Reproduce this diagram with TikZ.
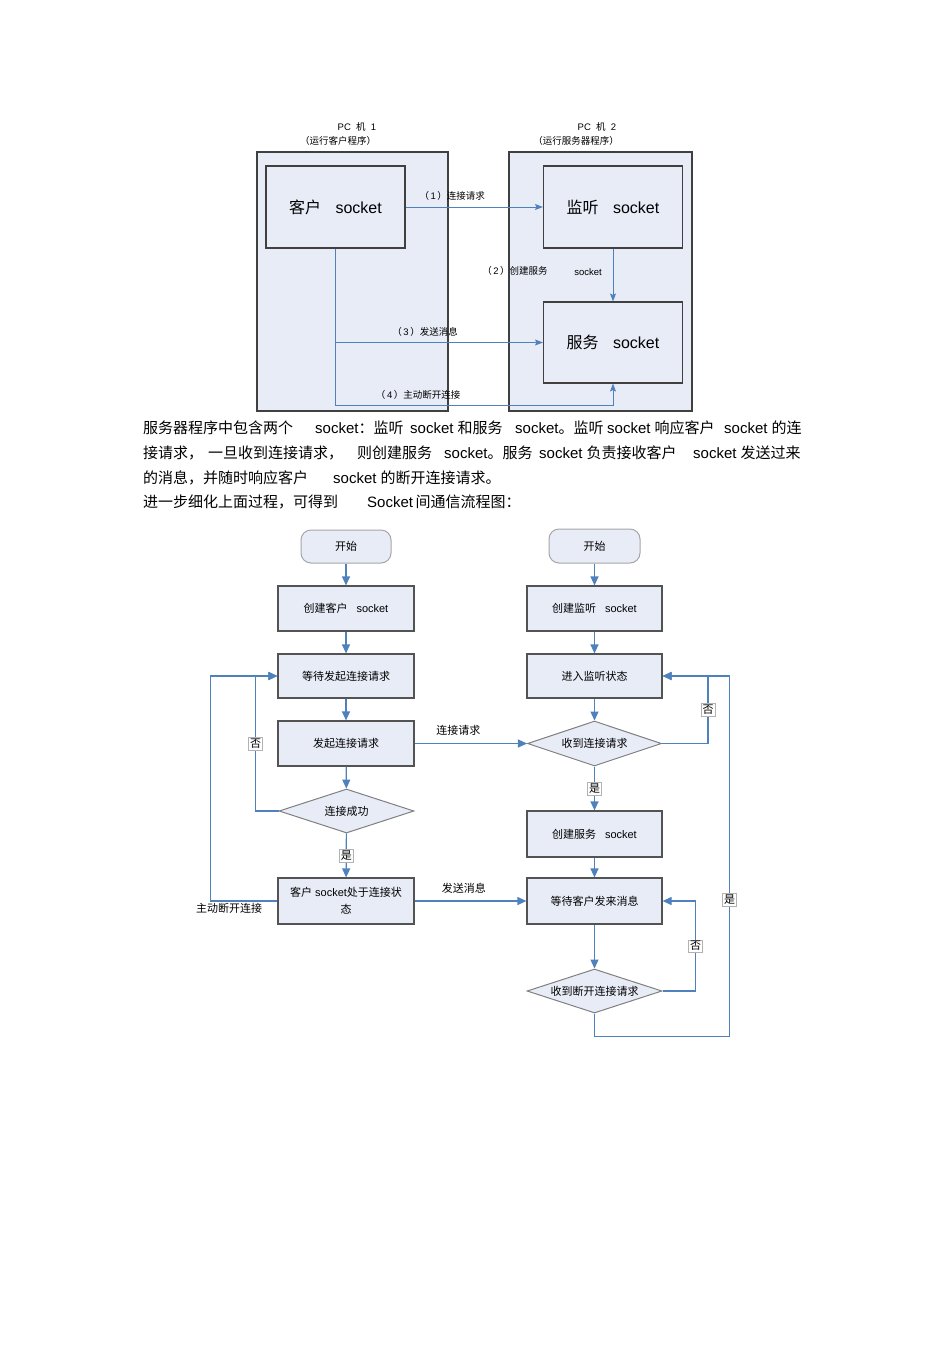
\documentclass[tikz,border=0pt]{standalone}
\usepackage{fontspec}
\setmainfont{Liberation Sans}
\newfontfamily\cjk{Noto Sans CJK SC}
\usetikzlibrary{shapes.geometric,arrows.meta,positioning,calc}
\usepackage{xcolor}

\definecolor{boxfill}{RGB}{232,236,247}
\definecolor{flowblue}{RGB}{79,129,189}
\definecolor{edgegray}{RGB}{64,64,64}
\newcommand{\zh}[1]{{\cjk #1}}

\begin{document}
\begin{tikzpicture}[x=1pt, y=-1pt,
            every node/.style={font=\fontsize{11}{13}\selectfont},
            pcbox/.style={draw=edgegray, fill=boxfill, line width=1.1pt, inner sep=0},
            sockbox/.style={draw=edgegray, fill=boxfill, line width=1.1pt, inner sep=0, minimum width=139pt, minimum height=82pt, font=\fontsize{16}{18}\selectfont},
            small/.style={inner sep=1pt, font=\fontsize{9.5}{11}\selectfont},
            link/.style={draw=flowblue, line width=0.9pt, -{Stealth[length=8pt,width=6pt,inset=1.5pt]}},
            term/.style={draw=gray!70, fill=boxfill, line width=1pt, rounded corners=10pt, minimum width=90pt, minimum height=33pt},
            proc/.style={draw=edgegray!90, fill=boxfill, line width=1.2pt, minimum width=136pt, minimum height=45pt, inner sep=2pt},
            decide/.style={diamond, aspect=3, draw=gray, fill=boxfill, line width=1pt, minimum width=135pt, minimum height=44pt, inner sep=0},
            flow/.style={draw=flowblue, line width=1.2pt, -{Triangle[length=9pt,width=8pt]}},
            tag/.style={draw=gray!60, fill=white, line width=0.5pt, inner sep=1.5pt},
            para/.style={anchor=base west, inner sep=0, font=\fontsize{15}{18}\selectfont}
        ]
    \fill[white] (0,0) rectangle (950,1345);

    % top: the two machines
    \node[pcbox, minimum width=191pt, minimum height=259pt] (pc1) at (352.5,281.5) {};
    \node[pcbox, minimum width=183pt, minimum height=259pt] (pc2) at (600.5,281.5) {};
    \node[small] (pc1name) at (357,127) {PC\ \ \zh{机}\ \ 1};
    \node[small] (pc1note) at (338,141) {\zh{（运行客户程序）}};
    \node[small] (pc2name) at (597,127) {PC\ \ \zh{机}\ \ 2};
    \node[small] (pc2note) at (576,141) {\zh{（运行服务器程序）}};

    \node[sockbox] (cli) at (335.5,207) {\zh{客户}\hspace{0.9em}socket};
    \node[sockbox] (lis) at (613,207) {\zh{监听}\hspace{0.9em}socket};
    \node[sockbox, minimum height=81pt] (srv) at (613,342.5) {\zh{服务}\hspace{0.9em}socket};

    \draw[link] (cli) -- node[small, above=5pt, pos=0.34] {\zh{（}\,1\,\zh{）连接请求}} (lis);
    \draw[link] (lis) -- (srv);
    \node[small] (step2) at (515,271) {\zh{（}\,2\,\zh{）创建服务}};
    \node[small] (step2b) at (588,272) {socket};
    \draw[link] (cli.south) |- node[small, above=5pt, pos=0.716] {\zh{（}\,3\,\zh{）发送消息}} (srv.west);
    \draw[link] (cli.south) -- ++(0,157) -| node[small, above=5pt, pos=0.149] {\zh{（}\,4\,\zh{）主动断开连接}} (srv.south);

    % paragraph
    \node[para] (p1a) at (143,433) {\zh{服务器程序中包含两个}};
    \node[para] (p1b) at (315,433) {socket\zh{：监听}};
    \node[para] (p1c) at (410,433) {socket \zh{和服务}};
    \node[para] (p1d) at (515,433) {socket\zh{。监听}};
    \node[para] (p1e) at (607,433) {socket \zh{响应客户}};
    \node[para] (p1f) at (724,433) {socket \zh{的连}};
    \node[para] (p2a) at (143,458) {\zh{接请求，}};
    \node[para] (p2b) at (208,458) {\zh{一旦收到连接请求，}};
    \node[para] (p2c) at (357,458) {\zh{则创建服务}};
    \node[para] (p2d) at (444,458) {socket\zh{。服务}};
    \node[para] (p2e) at (539,458) {socket \zh{负责接收客户}};
    \node[para] (p2f) at (693,458) {socket \zh{发送过来}};
    \node[para] (p3a) at (143,483) {\zh{的消息，并随时响应客户}};
    \node[para] (p3b) at (333,483) {socket \zh{的断开连接请求。}};
    \node[para] (p4a) at (143,507) {\zh{进一步细化上面过程，可得到}};
    \node[para] (p4b) at (367,507) {Socket\,\zh{间通信流程图：}};

    % client flow
    \node[term] (start1) at (346,546.5) {\zh{开始}};
    \node[proc] (mkcli) at (346,608.5) {\zh{创建客户}\hspace{0.8em}socket};
    \node[proc, minimum height=44pt] (waitreq) at (346,676) {\zh{等待发起连接请求}};
    \node[proc] (sendreq) at (346,743.5) {\zh{发起连接请求}};
    \node[decide] (okq) at (346.5,811) {\zh{连接成功}};
    \node[proc, minimum height=46pt, align=center, font=\fontsize{11}{17}\selectfont] (conn) at (346,901) {\zh{客户} socket\zh{处于连接状}\\\zh{态}};

    % server flow
    \node[term, minimum width=91pt, minimum height=34pt] (start2) at (594.5,546) {\zh{开始}};
    \node[proc, minimum width=135pt] (mklis) at (594.5,608.5) {\zh{创建监听}\hspace{0.8em}socket};
    \node[proc, minimum width=135pt, minimum height=44pt] (listen) at (594.5,676) {\zh{进入监听状态}};
    \node[decide, minimum width=134pt, minimum height=45pt] (gotreq) at (594.5,743.5) {\zh{收到连接请求}};
    \node[proc, minimum width=135pt, minimum height=46pt] (mksrv) at (594.5,834) {\zh{创建服务}\hspace{0.8em}socket};
    \node[proc, minimum width=135pt, minimum height=46pt] (waitmsg) at (594.5,901) {\zh{等待客户发来消息}};
    \node[decide] (brkq) at (594.5,991) {\zh{收到断开连接请求}};

    \draw[flow] (start1) -- (mkcli);
    \draw[flow] (mkcli) -- (waitreq);
    \draw[flow] (waitreq) -- (sendreq);
    \draw[flow] (sendreq) -- (okq);
    \draw[flow] (okq) -- node[tag] {\zh{是}} (conn);
    \draw[flow] (okq.west) -- ++(-23,0) |- node[tag, pos=0.25] {\zh{否}} (waitreq.west);
    \draw[flow] (conn.west) -- node[below=1pt, inner sep=1pt, pos=0.72] {\zh{主动断开连接}} ++(-67,0) |- (waitreq.west);

    \draw[flow] (start2) -- (mklis);
    \draw[flow] (mklis) -- (listen);
    \draw[flow] (listen) -- (gotreq);
    \draw[flow] (gotreq) -- node[tag] {\zh{是}} (mksrv);
    \draw[flow] (gotreq.east) -- ++(46,0) |- node[tag, pos=0.25] {\zh{否}} (listen.east);
    \draw[flow] (mksrv) -- (waitmsg);
    \draw[flow] (waitmsg) -- (brkq);
    \draw[flow] (brkq.east) -- ++(33,0) |- node[tag, pos=0.25] {\zh{否}} (waitmsg.east);
    \draw[flow] (brkq.south) -- ++(0,23) -| node[tag, pos=0.69] {\zh{是}} ($(listen.east)+(67,0)$) -- (listen.east);

    \draw[flow] (sendreq) -- node[above=4pt, pos=0.39] {\zh{连接请求}} (gotreq);
    \draw[flow] (conn) -- node[above=4pt, pos=0.44] {\zh{发送消息}} (waitmsg);
\end{tikzpicture}
\end{document}
